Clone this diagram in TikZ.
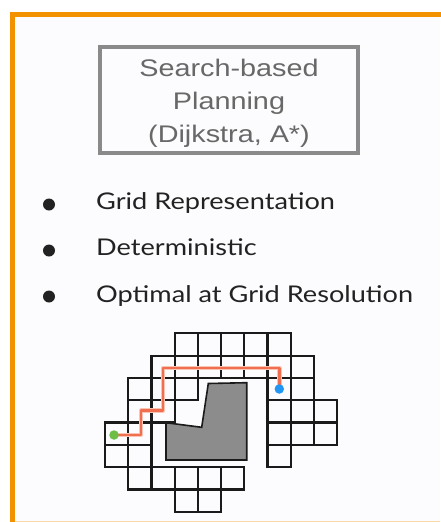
\documentclass[tikz,border=0pt]{standalone}
\usepackage{fontspec}
\newfontfamily\listfont[FakeStretch=1.18]{Lato}
\newfontfamily\boxfont[FakeStretch=1.2]{Liberation Sans}
\definecolor{frameorange}{HTML}{F39200}
\definecolor{panel}{HTML}{FCFBFD}
\definecolor{boxgray}{HTML}{8A8A8A}
\definecolor{boxtext}{HTML}{686868}
\definecolor{textdark}{HTML}{222222}
\definecolor{gridline}{HTML}{1A1A1A}
\definecolor{obstacle}{HTML}{8C8C8C}
\definecolor{routeorange}{HTML}{EF6F50}
\definecolor{routehalo}{HTML}{F9C4B4}
\definecolor{startgreen}{HTML}{6DBE45}
\definecolor{goalblue}{HTML}{2196F3}
\tikzstyle{cell}=[draw=gridline,line width=2.2pt]
\tikzstyle{bullet}=[circle,fill=textdark,inner sep=0,minimum size=12pt]
\tikzstyle{item}=[anchor=base west,inner sep=0,text=textdark,font=\listfont\fontsize{23}{28}\selectfont]
\tikzstyle{route}=[line width=2.4pt,draw=routeorange,line join=round]
\tikzstyle{routeglow}=[line width=4.6pt,draw=routehalo,line join=round]
\tikzstyle{endpoint}=[circle,inner sep=0,minimum size=9.5pt]

\begin{document}
\begin{tikzpicture}[x=1pt,y=-1pt]
        \useasboundingbox (0,0) rectangle (440,522);
        \fill[white] (0,0) rectangle (440,522);
        \fill[panel] (12,14) rectangle (440,522);
        \draw[frameorange,line width=5pt] (12.5,526) -- (12.5,14.5) -- (446,14.5);
        \draw[frameorange!35,line width=2pt] (15,521.5) -- (440,521.5);

        % method box
        \node[draw=boxgray,line width=3.3pt,minimum width=258pt,minimum height=106pt] (method) at (229,100) {};
        \node[text=boxtext,align=center,inner sep=0,font=\boxfont\fontsize{24}{33}\selectfont] (methodtxt) at (229,103.5)
            {Search-based\\Planning\\(Dijkstra, A*)};

        % properties
        \node[bullet] (b1) at (49,204.5) {};
        \node[bullet] (b2) at (49,250.5) {};
        \node[bullet] (b3) at (49,296.5) {};
        \node[item] (grid) at (96,209) {Grid Representation};
        \node[item] (det)  at (96,255.5) {Deterministic};
        \node[item] (opt)  at (96,302.5) {Optimal at Grid Resolution};

        % obstacle
        \filldraw[fill=obstacle,draw=gridline,line width=1.6pt]
            (166,422.7) -- (201.7,427.3) -- (208.3,383.5) -- (246.7,382.7)
            -- (246.7,460) -- (166,460) -- cycle;

        % free cells of the grid
        \def\gx{105} \def\gy{333.3} \def\cw{23.2} \def\ch{22.3}
        \foreach \c/\r in {3/0,4/0,5/0,6/0,7/0,
                           2/1,3/1,4/1,5/1,6/1,7/1,8/1,
                           1/2,2/2,3/2,7/2,8/2,
                           1/3,2/3,7/3,8/3,9/3,
                           0/4,1/4,7/4,8/4,9/4,
                           0/5,1/5,7/5,
                           1/6,2/6,3/6,4/6,5/6,
                           3/7,4/7}
            \draw[cell] ({\gx+\c*\cw},{\gy+\r*\ch}) rectangle ++(\cw,\ch);

        % shortest route
        \node[endpoint] (start) at (114,435) {};
        \node[endpoint] (goal) at (279.3,389) {};
        \coordinate (t1) at (141,435);
        \coordinate (t2) at (163,410.5);
        \coordinate (t3) at (279.3,368);
        \draw[routeglow] (start.center) -- (t1) |- (t2) |- (t3) -- (goal.center);
        \draw[route] (start.center) -- (t1) |- (t2) |- (t3) -- (goal.center);
        \fill[startgreen] (start) circle (4.75pt);
        \fill[goalblue] (goal) circle (4.75pt);
    \end{tikzpicture}
\end{document}
